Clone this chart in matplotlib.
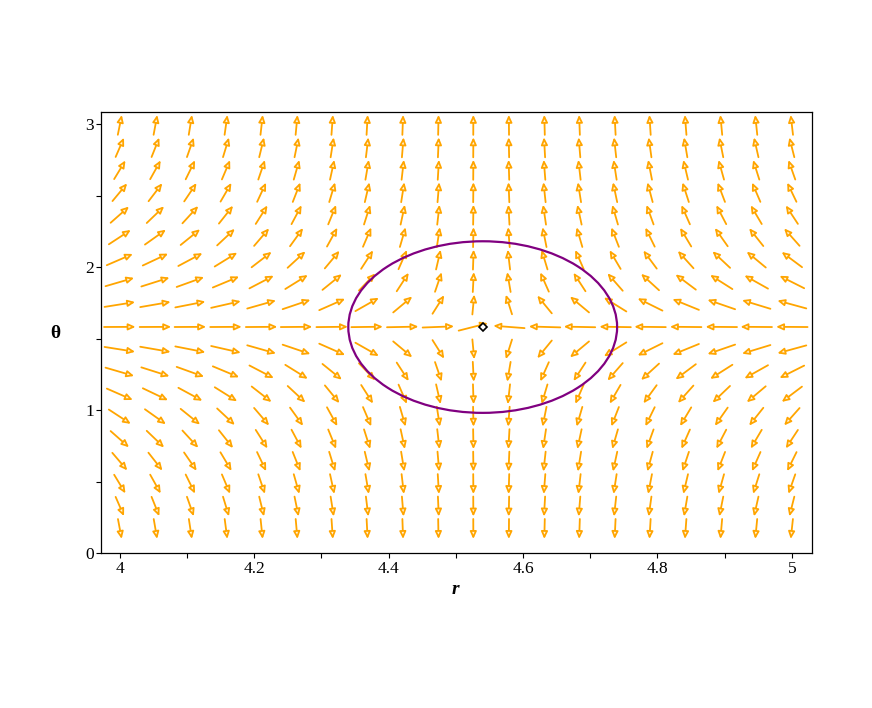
import matplotlib
matplotlib.use("Agg")
import matplotlib.pyplot as plt
from matplotlib.patches import FancyArrowPatch, Ellipse
import numpy as np

# grid of the direction field
r_grid = [4.000, 4.053, 4.105, 4.158, 4.211, 4.263, 4.316, 4.368, 4.421, 4.474,
          4.526, 4.579, 4.632, 4.684, 4.737, 4.789, 4.842, 4.895, 4.947, 5.000]
theta_grid = [0.168, 0.325, 0.482, 0.639, 0.796, 0.953, 1.110, 1.267, 1.424, 1.581,
              1.738, 1.895, 2.052, 2.209, 2.366, 2.523, 2.680, 2.837, 2.994]

# field components (per column / per row, relative units)
r_component = [1.00, 0.92, 0.81, 0.70, 0.56, 0.47, 0.36, 0.28, 0.19, 0.10,
               0.015, -0.05, -0.13, -0.19, -0.255, -0.32, -0.39, -0.46, -0.52, -0.58]
theta_component = [-8.4, -3.62, -2.6, -1.85, -1.39, -1.03, -0.69, -0.46, -0.25, 0.006,
                   0.25, 0.46, 0.68, 1.03, 1.39, 1.9, 2.6, 3.63, 7.8]

# closed curve and equilibrium point
ellipse_center = (4.54, 1.58)
ellipse_semi_axes = (0.2, 0.6)
equilibrium = (4.54, 1.58)

x_ticks = [4.0, 4.2, 4.4, 4.6, 4.8, 5.0]
x_ticklabels = ["4", "4.2", "4.4", "4.6", "4.8", "5"]
x_minor = [4.1, 4.3, 4.5, 4.7, 4.9]
y_ticks = [0, 1, 2, 3]
y_ticklabels = ["0", "1", "2", "3"]
y_minor = [0.5, 1.5, 2.5]

ARROW = "#FFA500"
CURVE = "#800080"
SERIF = ["Liberation Serif", "DejaVu Serif"]

fig = plt.figure(figsize=(8.72, 7.08), dpi=100)
ax = fig.add_axes([101 / 872, 1 - 553 / 708, 711 / 872, 441 / 708])
ax.set_xlim(3.972, 5.030)
ax.set_ylim(0.0, 3.084)

cell_r = (r_grid[-1] - r_grid[0]) / (len(r_grid) - 1)
cell_t = (theta_grid[-1] - theta_grid[0]) / (len(theta_grid) - 1)
L = 0.89
for j, th in enumerate(theta_grid):
    for i, r in enumerate(r_grid):
        u = r_component[i]
        v = theta_component[j]
        n = np.hypot(u, v)
        du = L * u / n * cell_r
        dv = L * v / n * cell_t
        arr = FancyArrowPatch((r - du / 2, th - dv / 2), (r + du / 2, th + dv / 2),
                              arrowstyle="-|>,head_length=0.42,head_width=0.19",
                              mutation_scale=10, lw=1.3, ec=ARROW, fc="#FFF3DC",
                              shrinkA=0, shrinkB=0, zorder=2)
        ax.add_patch(arr)

ell = Ellipse(ellipse_center, 2 * ellipse_semi_axes[0], 2 * ellipse_semi_axes[1],
              fill=False, ec=CURVE, lw=1.6, zorder=3)
ax.add_patch(ell)
ax.plot([equilibrium[0]], [equilibrium[1]], marker="D", ms=4.5, mfc="white",
        mec="black", mew=1.2, zorder=4)

ax.set_xticks(x_ticks)
ax.set_xticklabels(x_ticklabels, family=SERIF, fontsize=12.5)
ax.set_xticks(x_minor, minor=True)
ax.set_yticks(y_ticks)
ax.set_yticklabels(y_ticklabels, family=SERIF, fontsize=12.5)
ax.set_yticks(y_minor, minor=True)
ax.tick_params(axis="both", which="both", direction="out", length=3.5, width=0.8,
               top=False, right=False)
ax.tick_params(axis="x", pad=2.5)
ax.tick_params(axis="y", pad=1.5)
for s in ax.spines.values():
    s.set_linewidth(0.9)

fig.text(455 / 872, 1 - 589 / 708, "r", ha="center", va="center", family=SERIF,
         fontstyle="italic", fontweight="bold", fontsize=14)
fig.text(55 / 872, 1 - 333 / 708, "θ", ha="center", va="center", family=SERIF,
         fontweight="bold", fontsize=14)

fig.savefig("out.png", dpi=100)
